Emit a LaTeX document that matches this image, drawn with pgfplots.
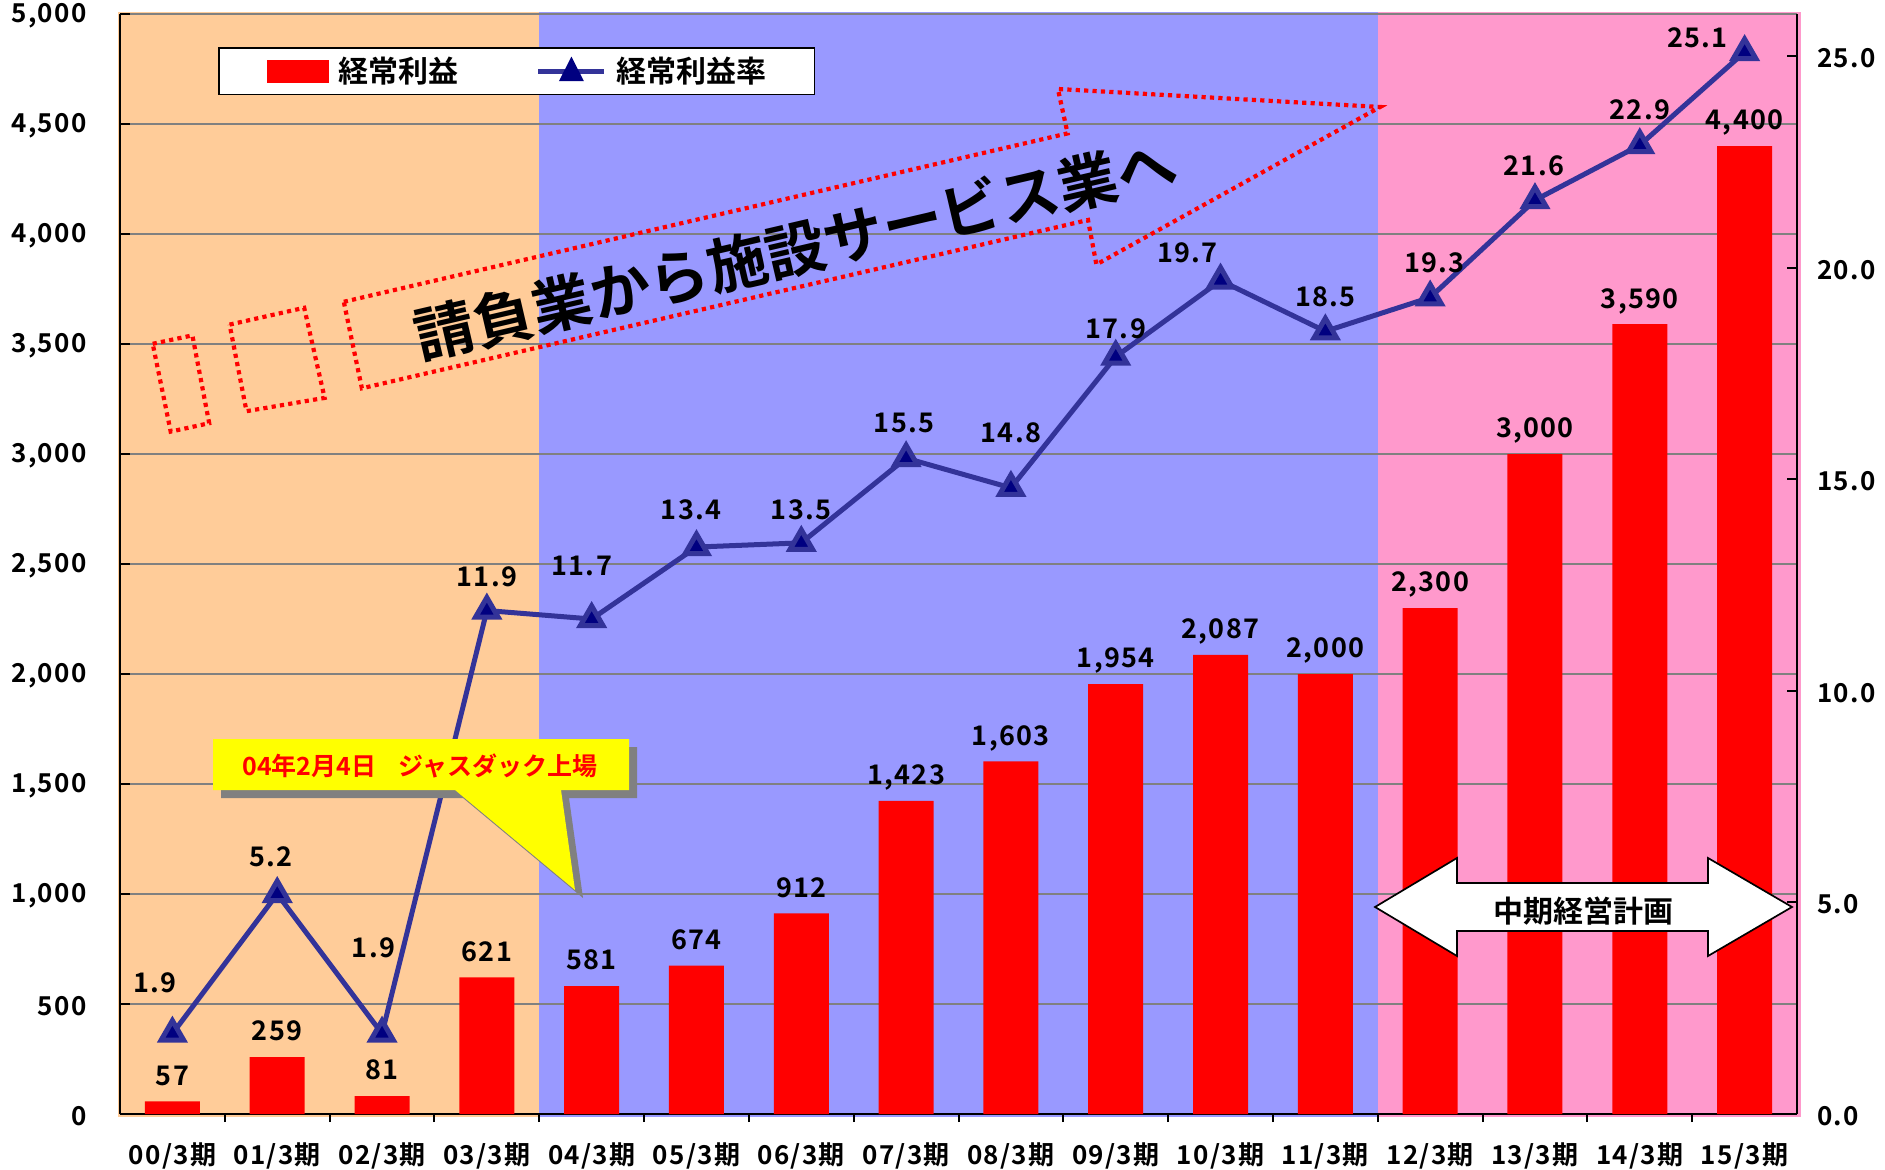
\documentclass[border=0pt]{standalone}
\usepackage{fontspec}
\usepackage{pgfplots}
\usepackage{pgfplotstable}
\pgfplotsset{compat=1.18}
\setmainfont{Noto Sans CJK JP}[UprightFont={* Bold},BoldFont={* Bold}]
\newfontfamily\numf{Noto Sans CJK JP}[UprightFont={* Bold},BoldFont={* Bold},LetterSpace=5]

\definecolor{bgorange}{HTML}{FFCC99}
\definecolor{bgblue}{HTML}{9999FF}
\definecolor{bgpink}{HTML}{FF99CC}
\definecolor{barred}{HTML}{FF0000}
\definecolor{linecol}{HTML}{333399}
\definecolor{marknavy}{HTML}{000080}
\definecolor{gridgray}{HTML}{808080}
\definecolor{callyellow}{HTML}{FFFF00}

\pgfplotstableread{
x y
0 57
1 259
2 81
3 621
4 581
5 674
6 912
7 1423
8 1603
9 1954
10 2087
11 2000
12 2300
13 3000
14 3590
15 4400
}\bardata

\pgfplotstableread{
x y dx dy
0 1.9 -8.7 25.5
1 5.2 -3.2 18.7
2 1.9 -4.3 43
3 11.9 0 16.7
4 11.7 -5 26.3
5 13.4 -2.7 18.6
6 13.5 0 16.5
7 15.5 -1 17.5
8 14.8 0 27.5
9 17.9 0 14
10 19.7 -16.5 14
11 18.5 0 17.3
12 19.3 2.2 17.3
13 21.6 -0.5 17.3
14 22.9 0 17.5
15 25.1 -23.6 7.4
}\linedata

\begin{document}
\begin{tikzpicture}
\begin{axis}[
  set layers, clip=false,
  at={(60pt,27.5pt)}, anchor=south west,
  width=838.5pt, height=550pt, scale only axis,
  xmin=-0.5, xmax=15.5, ymin=0, ymax=5000,
  enlargelimits=false,
  axis x line*=bottom, axis y line*=left,
  axis line style={black, line width=1pt},
  tick align=inside,
  xtick={0,...,15},
  xticklabels={00/3期,01/3期,02/3期,03/3期,04/3期,05/3期,06/3期,07/3期,08/3期,09/3期,10/3期,11/3期,12/3期,13/3期,14/3期,15/3期},
  minor xtick={0.5,1.5,...,14.5},
  major x tick style={draw=none},
  minor x tick style={black, line width=1pt},
  minor tick length=4pt,
  major tick length=5pt,
  ytick={0,500,...,5000},
  y tick style={black, line width=1pt},
  ymajorgrids, grid style={gridgray, line width=1.1pt},
  scaled y ticks=false,
  /pgf/number format/assume math mode=true,
  /pgf/number format/1000 sep={,},
  yticklabel style={font=\numf\fontsize{13}{15}\selectfont, anchor=east, inner sep=0pt, xshift=-16.5pt, yshift=-1pt},
  xticklabel style={font=\numf\fontsize{13}{15}\selectfont, anchor=north, inner sep=0pt, yshift=-9pt},
  ybar, bar width=0.525,
]
\begin{pgfonlayer}{axis background}
\fill[bgorange] ([xshift=-1.2pt,yshift=-1.5pt]axis cs:-0.5,0) rectangle ([yshift=1.2pt]axis cs:3.5,5000);
\fill[bgblue] ([yshift=-1.5pt]axis cs:3.5,0) rectangle ([yshift=1.2pt]axis cs:11.5,5000);
\fill[bgpink] ([yshift=-1.5pt]axis cs:11.5,0) rectangle ([xshift=1.9pt,yshift=1.2pt]axis cs:15.5,5000);
\end{pgfonlayer}
\addplot[fill=barred, draw=none,
  nodes near coords,
  every node near coord/.append style={font=\numf\fontsize{13.5}{15}\selectfont, text=black, inner sep=0pt, text depth=0pt, anchor=south, yshift=7.9pt}]
  table[x=x,y=y]{\bardata};
\end{axis}

\begin{axis}[
  set layers, clip=false,
  at={(60pt,27.5pt)}, anchor=south west,
  width=838.5pt, height=550pt, scale only axis,
  xmin=-0.5, xmax=15.5, ymin=0, ymax=26,
  enlargelimits=false,
  axis x line=none, axis y line*=right,
  axis line style={black, line width=1pt},
  tick align=inside,
  major tick length=5pt,
  ytick={0,5,...,25},
  y tick style={black, line width=1pt},
  scaled y ticks=false,
  /pgf/number format/assume math mode=true,
  yticklabel={\pgfmathprintnumber[fixed,fixed zerofill,precision=1]{\tick}},
  yticklabel style={font=\numf\fontsize{13}{15}\selectfont, anchor=west, inner sep=0pt, xshift=9.8pt, yshift=-1pt},
  legend columns=2,
  legend cell align=left,
  legend style={at={(0.0584,0.9697)}, anchor=north west, draw=black, line width=0.8pt, fill=white,
    inner xsep=24pt, inner ysep=4.5pt, font=\fontsize{15}{17}\selectfont, nodes={inner sep=0pt},
    /tikz/every even column/.append style={column sep=38.5pt},
    /tikz/every odd column/.append style={column sep=4.8pt}},
]
\addlegendimage{legend image code/.code={\fill[barred] (0pt,-5.25pt) rectangle (30.5pt,5.25pt);}}
\addlegendentry{経常利益}
\addlegendimage{legend image code/.code={\draw[linecol, line width=2.5pt] (0pt,0pt) -- (33pt,0pt); \fill[marknavy] (16.5pt,6.5pt) -- (10.9pt,-4.5pt) -- (22.1pt,-4.5pt) -- cycle;}}
\addlegendentry{経常利益率}
\addplot[color=linecol, line width=2.5pt, mark=triangle*, mark size=6.5pt,
  mark options={solid, fill=marknavy, draw=none},
  forget plot,
  nodes near coords={\pgfmathprintnumber[fixed,fixed zerofill,precision=1]{\pgfplotspointmeta}},
  visualization depends on={\thisrow{dx}\as\mydx},
  visualization depends on={\thisrow{dy}\as\mydy},
  every node near coord/.append style={font=\numf\fontsize{13.5}{15}\selectfont, text=black, inner sep=0pt, anchor=center, xshift=\mydx pt, yshift=\mydy pt}]
  table[x=x,y=y]{\linedata};
\end{axis}

\begin{scope}[x=0.5pt, y=-0.5pt, shift={(0pt,584.5pt)}]
  % dotted block arrow
  \draw[barred, line width=2.1pt, dash pattern=on 2.1pt off 2.1pt]
    (343.8,301.8) -- (1067.6,133.4) -- (1057.9,89) -- (1380.1,107) -- (1096.4,264.5) -- (1088,220) -- (361.9,388.3) -- cycle;
  \draw[barred, line width=2.1pt, dash pattern=on 2.1pt off 2.1pt]
    (152.7,343.8) -- (192.4,335.4) -- (209.2,423.2) -- (170.7,431.6) -- cycle;
  \draw[barred, line width=2.1pt, dash pattern=on 2.1pt off 2.1pt]
    (229.6,324.6) -- (304.2,307.8) -- (324.6,397.9) -- (246.5,411.2) -- cycle;
  \node[rotate=13.1, font=\fontsize{30}{32}\selectfont, inner sep=0pt] at (795.5,249) {請負業から施設サービス業へ};
  % callout
  \begin{scope}[shift={(4pt,-4pt)}]
    \fill[gridgray] (213,739) -- (629,739) -- (629,790) -- (561,790) -- (575,890) -- (455,790) -- (213,790) -- cycle;
  \end{scope}
  \fill[callyellow] (213,739) -- (629,739) -- (629,790) -- (561,790) -- (575,890) -- (455,790) -- (213,790) -- cycle;
  \node[text=barred, font=\fontsize{12.5}{14}\selectfont, inner sep=0pt] at (420,766) {04年2月4日\hspace{0.9em}ジャスダック上場};
  % double arrow
  \filldraw[fill=white, draw=black, line width=0.85pt]
    (1375,907) -- (1457,858) -- (1457,883) -- (1708,883) -- (1708,858) -- (1792,907) -- (1708,956) -- (1708,931) -- (1457,931) -- (1457,956) -- cycle;
  \node[font=\fontsize{15}{17}\selectfont, inner sep=0pt] at (1583,911) {中期経営計画};
\end{scope}

\pgfresetboundingbox
\useasboundingbox (0pt,0pt) rectangle (942.5pt,584.5pt);
\end{tikzpicture}
\end{document}
